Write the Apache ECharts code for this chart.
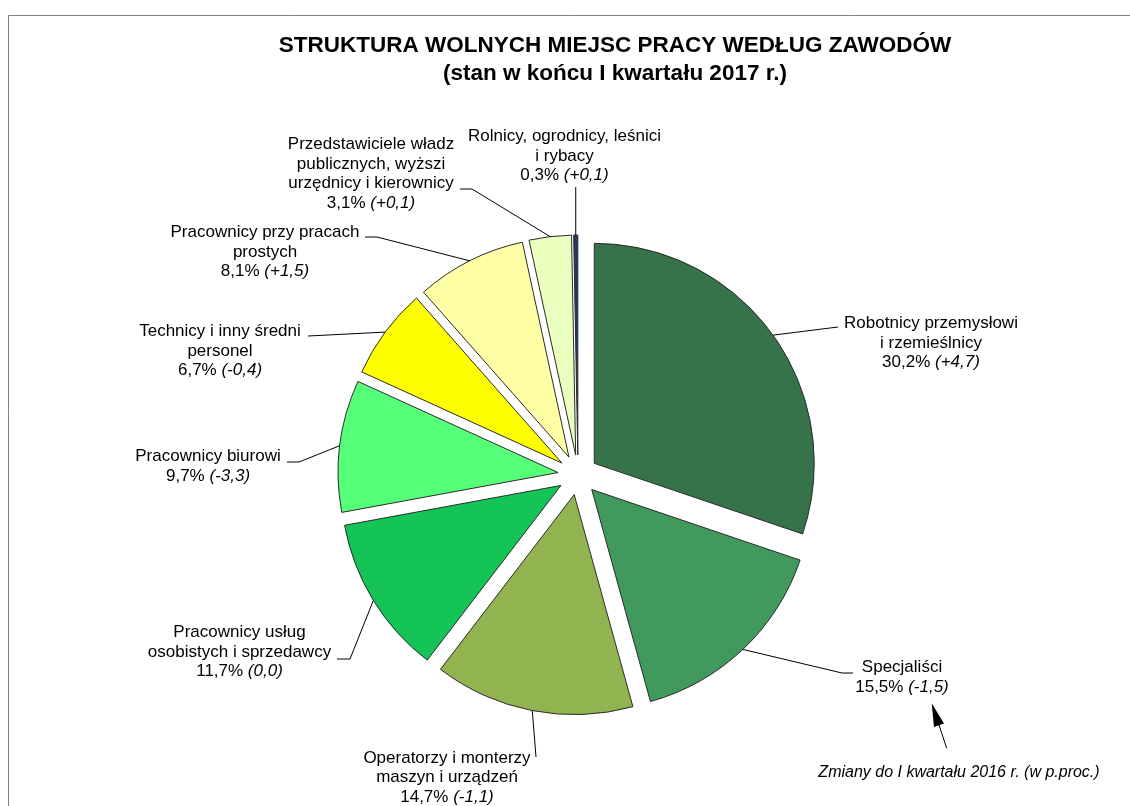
<!DOCTYPE html>
<html><head><meta charset="utf-8">
<script src="https://cdn.jsdelivr.net/npm/echarts@6/dist/echarts.min.js"></script>
<style>html,body{margin:0;padding:0;background:#fff}#c{width:1130px;height:806px}</style>
</head><body><div id="c"></div>
<script>
// ---- data ----
const categories = [
  'Robotnicy przemysłowi\ni rzemieślnicy',
  'Specjaliści',
  'Operatorzy i monterzy\nmaszyn i urządzeń',
  'Pracownicy usług\nosobistych i sprzedawcy',
  'Pracownicy biurowi',
  'Technicy i inny średni\npersonel',
  'Pracownicy przy pracach\nprostych',
  'Przedstawiciele władz\npublicznych, wyższi\nurzędnicy i kierownicy',
  'Rolnicy, ogrodnicy, leśnici\ni rybacy'
];
const shares = [30.2, 15.5, 14.7, 11.7, 9.7, 6.7, 8.1, 3.1, 0.3];
const changes = [4.7, -1.5, -1.1, 0.0, -3.3, -0.4, 1.5, 0.1, 0.1];
const titleText = 'STRUKTURA WOLNYCH MIEJSC PRACY WEDŁUG ZAWODÓW\n(stan w końcu I kwartału 2017 r.)';
const noteText = 'Zmiany do I kwartału 2016 r. (w p.proc.)';

// ---- styles / layout ----
const colors = ['#37734A', '#42995E', '#92B450', '#14C457', '#55FF77', '#FFFF00', '#FFFFA5', '#EBFFBE', '#1F3D63'];
const FONT = 'Liberation Sans, Arial, Helvetica, sans-serif';
// label block anchor: [center x, top y]
const labelBoxes = [[931, 314], [902, 658], [447, 748.5], [239.5, 623], [208, 447], [220, 322], [265, 223], [371, 135], [564.5, 127]];
// leader line points after the slice-edge point (null x = same x as edge point)
const leaderPts = [
  [[838, 327]],
  [[842, 673], [853, 673]],
  [[536, 757]],
  [[350, 659], [337, 659]],
  [[299, 462], [287, 462]],
  [[308, 336]],
  [[377, 237], [365, 237]],
  [[472, 189], [460, 189]],
  [[null, 187]]
];

const fmt = v => Math.abs(v).toFixed(1).replace('.', ',');
const fmtChange = v => (v > 0 ? '+' : v < 0 ? '-' : '') + fmt(v);

const chart = echarts.init(document.getElementById('c'), null, {renderer: 'canvas'});
chart.setOption({
  animation: false,
  backgroundColor: '#fff',
  title: {
    text: titleText,
    left: 615, top: 32, padding: 0, textAlign: 'center',
    textStyle: {fontFamily: FONT, fontSize: 22.5, fontWeight: 'bold', color: '#000', lineHeight: 28}
  },
  graphic: [
    {type: 'rect', shape: {x: 8.5, y: 15.5, width: 1300, height: 1000}, style: {fill: 'none', stroke: '#808080', lineWidth: 1}, silent: true},
    {type: 'text', x: 959, y: 773, style: {text: noteText, fontFamily: FONT, fontSize: 16, fontStyle: 'italic', fill: '#000', align: 'center', verticalAlign: 'middle'}},
    {type: 'polyline', shape: {points: [[946.7, 748.3], [939, 725]]}, style: {stroke: '#000', lineWidth: 1}},
    {type: 'polygon', shape: {points: [[931.7, 703.3], [934, 727], [944, 723.5]]}, style: {fill: '#000'}}
  ],
  series: [
    {
      type: 'pie',
      center: [578, 475],
      radius: 220,
      startAngle: 90,
      clockwise: true,
      selectedMode: 'multiple',
      selectedOffset: 20,
      silent: true,
      label: {show: false},
      labelLine: {show: false},
      emphasis: {disabled: true},
      itemStyle: {borderColor: '#2b2b2b', borderWidth: 1},
      data: shares.map((v, i) => ({name: categories[i], value: v, selected: true, itemStyle: {color: colors[i]}}))
    },
    {
      type: 'pie',
      center: [578, 475],
      radius: 240,
      startAngle: 90,
      clockwise: true,
      silent: true,
      z: 5,
      avoidLabelOverlap: false,
      emphasis: {disabled: true},
      itemStyle: {color: 'rgba(0,0,0,0)', borderWidth: 0},
      label: {
        show: true,
        position: 'outside',
        color: '#000',
        fontFamily: FONT,
        fontSize: 17,
        lineHeight: 19.5,
        formatter: p => '{n|' + p.name + '}\n{n|' + fmt(p.value) + '% }{i|(' + fmtChange(changes[p.dataIndex]) + ')}',
        rich: {
          n: {fontFamily: FONT, fontSize: 17, lineHeight: 19.5, color: '#000'},
          i: {fontFamily: FONT, fontSize: 17, lineHeight: 19.5, color: '#000', fontStyle: 'italic'}
        }
      },
      labelLine: {show: true, length: 10, length2: 10, lineStyle: {color: '#000', width: 1}},
      labelLayout: function (p) {
        const i = p.dataIndex;
        const p0 = p.labelLinePoints[0];
        const pts = [[p0[0], p0[1]]];
        leaderPts[i].forEach(q => pts.push([q[0] == null ? p0[0] : q[0], q[1]]));
        while (pts.length < 3) pts.push(pts[pts.length - 1].slice());
        return {x: labelBoxes[i][0], y: labelBoxes[i][1], align: 'center', verticalAlign: 'top', labelLinePoints: pts};
      },
      data: shares.map((v, i) => ({name: categories[i], value: v}))
    }
  ]
});
</script>
</body></html>
